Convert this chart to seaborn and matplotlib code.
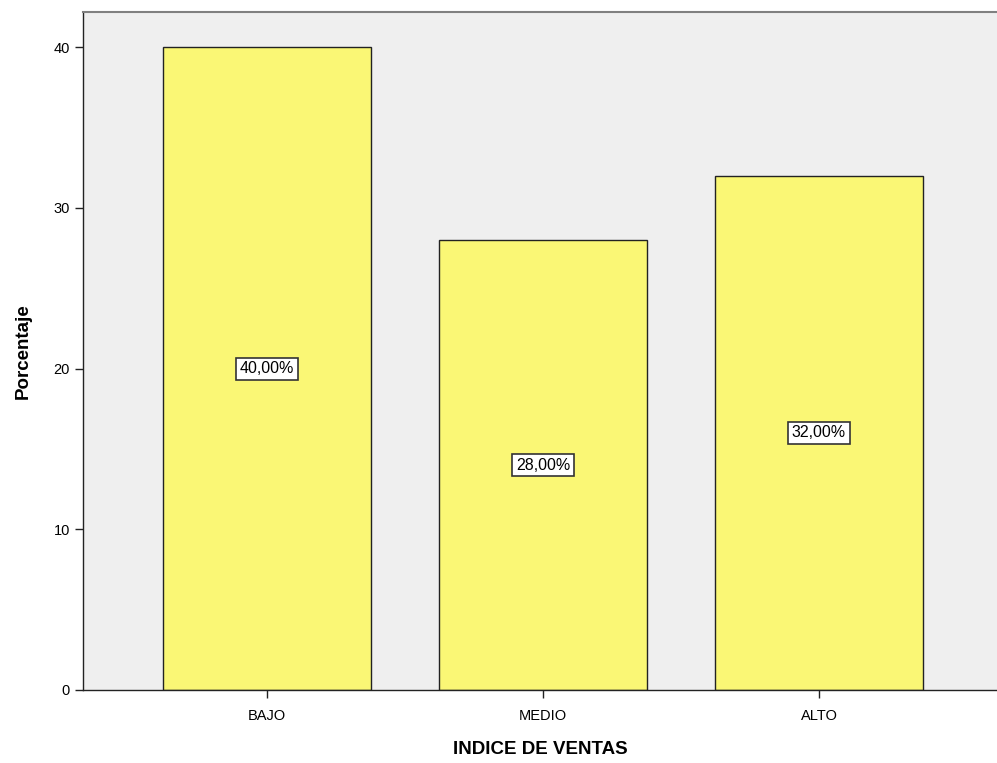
import pandas as pd
import matplotlib
matplotlib.use("Agg")
import matplotlib.pyplot as plt
import seaborn as sns

sns.set_style("white")
plt.rcParams["font.family"] = ["Liberation Sans", "DejaVu Sans"]
plt.rcParams["text.color"] = "black"
plt.rcParams["axes.labelcolor"] = "black"
plt.rcParams["xtick.color"] = "black"
plt.rcParams["ytick.color"] = "black"

categorias = ["BAJO", "MEDIO", "ALTO"]
porcentajes = [40.0, 28.0, 32.0]
etiquetas = ["40,00%", "28,00%", "32,00%"]

df = pd.DataFrame({"indice": categorias, "pct": porcentajes})

fig = plt.figure(figsize=(9.97, 7.63), dpi=100)
ax = fig.add_axes([0.0833, 0.0957, 0.9167, 0.8886])
ax.set_facecolor("#EFEFEF")

sns.barplot(data=df, x="indice", y="pct", color="#FAF775", saturation=1,
            edgecolor="#222222", linewidth=1.0, width=0.754, ax=ax)

for i, (v, lab) in enumerate(zip(porcentajes, etiquetas)):
    ax.text(i, v / 2, lab, ha="center", va="center", fontsize=11.5, color="black",
            bbox=dict(boxstyle="square,pad=0.22", fc="white", ec="#333333", lw=1.2))

ax.set_xlim(-0.667, 2.645)
ax.set_ylim(0, 42.2)
ax.set_yticks([0, 10, 20, 30, 40])
ax.tick_params(axis="both", direction="out", length=6, width=1.0, color="#222222",
               labelsize=10.5, left=True, bottom=True)
ax.tick_params(axis="x", pad=8)

for s in ["left", "bottom"]:
    ax.spines[s].set_color("#222222")
    ax.spines[s].set_linewidth(1.0)
ax.spines["top"].set_color("#808080")
ax.spines["top"].set_linewidth(1.5)
ax.spines["right"].set_visible(False)

ax.set_xlabel("INDICE DE VENTAS", fontsize=13.5, fontweight="bold", labelpad=13)
ax.set_ylabel("Porcentaje", fontsize=13.5, fontweight="bold", labelpad=16)

plt.savefig("out.png", dpi=100)
plt.close()
